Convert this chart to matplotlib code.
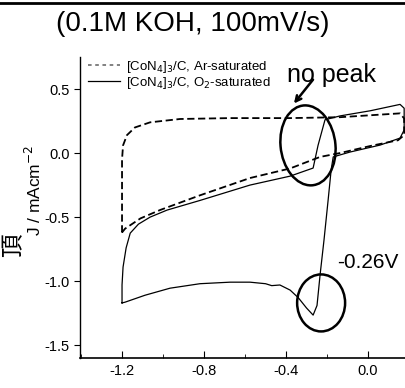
import matplotlib
matplotlib.use("Agg")
import matplotlib.pyplot as plt
from matplotlib.patches import Ellipse
from matplotlib.lines import Line2D
from matplotlib.ticker import MultipleLocator

plt.rcParams["font.family"] = ["Liberation Sans", "Noto Sans CJK SC", "DejaVu Sans"]

# CV traces (E in V, J in mA/cm2)
ar_e = [-1.20, -1.20, -1.20, -1.195, -1.176, -1.137, -1.063, -0.917, -0.673, -0.38,
        -0.137, 0.156, 0.176, 0.176, 0.146, 0.01, -0.137, -0.234, -0.38, -0.576,
        -0.82, -1.015, -1.11, -1.185, -1.20]
ar_j = [-0.62, -0.37, -0.05, 0.06, 0.14, 0.20, 0.24, 0.266, 0.273, 0.273,
        0.28, 0.31, 0.27, 0.14, 0.10, 0.055, 0.0, -0.03, -0.12, -0.195,
        -0.33, -0.445, -0.51, -0.59, -0.62]

o2_e = [-1.20, -1.20, -1.195, -1.18, -1.16, -1.12, -1.063, -0.98, -0.82, -0.576,
        -0.38, -0.268, -0.244, -0.21, -0.137, 0.01, 0.156, 0.176, 0.176, 0.156,
        0.059, -0.088, -0.17, -0.18, -0.195, -0.215, -0.234, -0.249, -0.268,
        -0.30, -0.34, -0.38, -0.43, -0.47, -0.50, -0.576, -0.673, -0.82, -0.966,
        -1.088, -1.185, -1.20]
o2_j = [-1.17, -1.03, -0.89, -0.74, -0.625, -0.555, -0.50, -0.445, -0.37, -0.25,
        -0.18, -0.117, 0.06, 0.26, 0.29, 0.33, 0.38, 0.35, 0.18, 0.117,
        0.0625, 0.008, -0.03, -0.13, -0.37, -0.68, -0.95, -1.19, -1.265,
        -1.21, -1.13, -1.07, -1.03, -1.035, -1.02, -1.008, -1.008, -1.02, -1.055,
        -1.11, -1.164, -1.17]

labels = ["[CoN$_4$]$_3$/C, Ar-saturated", "[CoN$_4$]$_3$/C, O$_2$-saturated"]
x_ticks = [-1.2, -0.8, -0.4, 0.0]
y_ticks = [0.5, 0.0, -0.5, -1.0, -1.5]

fig = plt.figure(figsize=(4.06, 3.88), dpi=100)
ax = fig.add_axes([80 / 406, 30 / 388, 326 / 406, 301 / 388])

ax.plot(ar_e, ar_j, color="black", lw=1.3, ls=(0, (4, 2)), label=labels[0])
ax.plot(o2_e, o2_j, color="black", lw=0.9, label=labels[1])

ax.set_xlim(-1.405, 0.185)
ax.set_ylim(-1.60, 0.75)
ax.set_xticks(x_ticks)
ax.set_xticklabels([f"{t:.1f}" for t in x_ticks])
ax.set_yticks(y_ticks)
ax.set_yticklabels([f"{t:.1f}" for t in y_ticks])
ax.xaxis.set_minor_locator(MultipleLocator(0.2))
ax.tick_params(axis="x", direction="in", length=5, labelsize=10.5, pad=4)
ax.tick_params(axis="x", which="minor", direction="in", length=3)
ax.tick_params(axis="y", direction="out", length=4, labelsize=10.5)
for s in ["top", "right"]:
    ax.spines[s].set_visible(False)
ax.spines["left"].set_linewidth(1.0)
ax.spines["bottom"].set_linewidth(1.2)

leg = ax.legend(loc="upper left", bbox_to_anchor=(0.0, 1.02), frameon=False,
                fontsize=9.5, handlelength=2.4, handletextpad=0.5,
                labelspacing=0.0, borderaxespad=0.2)
leg.get_lines()[0].set_color("#777777")
leg.get_lines()[0].set_linestyle((0, (2, 2)))

fig.text(34 / 406, 1 - 190 / 388, "J / mAcm$^{-2}$", rotation=90,
         ha="center", va="center", fontsize=12.5)

# handwritten notes on the scan
fig.text(193 / 406, 1 - 24 / 388, "(0.1M KOH, 100mV/s)", ha="center",
         va="center", fontsize=20)
fig.text(287 / 406, 1 - 75 / 388, "no peak", ha="left", va="center",
         fontsize=18)
fig.text(337 / 406, 1 - 262 / 388, "-0.26V", ha="left", va="center",
         fontsize=15)
fig.text(14 / 406, 1 - 245 / 388, "頂", ha="center", va="center",
         fontsize=17, rotation=90)

ax.add_patch(Ellipse((-0.293, 0.06), 0.268, 0.625, angle=3, fill=False,
                     lw=1.8, color="black", clip_on=False))
ax.add_patch(Ellipse((-0.229, -1.17), 0.234, 0.445, fill=False, lw=1.8,
                     color="black", clip_on=False))
ax.annotate("", xy=(-0.37, 0.37), xytext=(-0.26, 0.59),
            arrowprops=dict(arrowstyle="->", lw=1.8, color="black"))

fig.add_artist(Line2D([0, 1], [0.993, 0.993], color="black", lw=2))

fig.savefig("out.png", dpi=100)
